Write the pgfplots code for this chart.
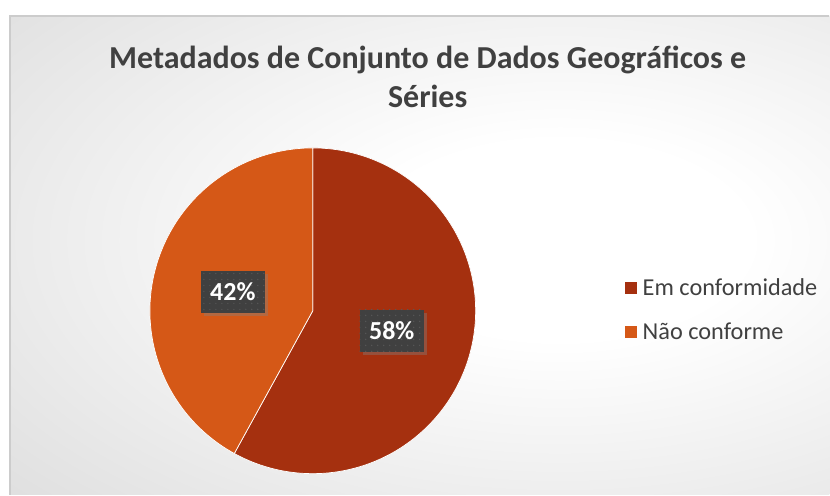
\documentclass[border=0pt]{standalone}
\usepackage{pgfplots}
\pgfplotsset{compat=1.18}
\usepackage{fontspec}
\setmainfont{Carlito}
\usetikzlibrary{shadows,patterns.meta}
\definecolor{cA}{RGB}{165,48,15}
\definecolor{cB}{RGB}{213,88,23}
\definecolor{txt}{RGB}{64,64,64}
\definecolor{bgout}{RGB}{198,198,198}
\definecolor{lbl}{RGB}{64,64,64}
\definecolor{dotc}{RGB}{88,88,88}
\pgfdeclareradialshading{bgshade}{\pgfpoint{0bp}{0bp}}{color(0bp)=(white); color(4bp)=(white); color(25bp)=(bgout); color(50bp)=(bgout)}
% data (percent)
\def\valA{58}
\def\valB{42}
\pgfmathsetmacro{\angA}{90}
\pgfmathsetmacro{\angB}{90-3.6*\valA}
\pgfmathsetmacro{\angC}{90-3.6*(\valA+\valB)}
\begin{document}
\begin{tikzpicture}
\begin{axis}[
  scale only axis, width=830pt, height=495pt,
  xmin=0, xmax=830, ymin=0, ymax=495, y dir=reverse,
  hide axis, clip=false, at={(0,0)}, anchor=south west,
  legend cell align=left,
  legend style={at={(axis cs:622,275)}, anchor=north west, draw=none, fill=none,
    font=\fontsize{24.3}{28}\selectfont, text=txt, row sep=22pt,
    nodes={inner sep=2pt}},
  legend image code/.code={\fill[#1,draw=none] (0pt,-6pt) rectangle (12pt,6pt);},
]
% background
\fill[white] (axis cs:0,0) rectangle (axis cs:830,495);
\fill[bgout] (axis cs:10,16) rectangle (axis cs:830,495);
\begin{scope}
\clip (axis cs:10,16) rectangle (axis cs:830,495);
\shade[shading=bgshade] (axis cs:560,240) ellipse [x radius=1180pt, y radius=620pt];
\end{scope}
\draw[black!20, line width=1.2pt] (axis cs:10,495) -- (axis cs:10,16) -- (axis cs:830,16);
% title
\node[text=txt, font=\bfseries\fontsize{32}{39}\selectfont, align=center] at (axis cs:428,77)
  {Metadados de Conjunto de Dados Geográficos e\\Séries};
% pie slices
\addplot[fill=cA, draw=white, line width=0.7pt, variable=\t, domain=\angB:\angA, samples=150]
  ({313+163*cos(\t)},{311-163*sin(\t)}) -- (axis cs:313,311) -- cycle;
\addlegendentry{\hspace{4pt}Em conformidade}
\addplot[fill=cB, draw=white, line width=0.7pt, variable=\t, domain=\angC:\angB, samples=120]
  ({313+163*cos(\t)},{311-163*sin(\t)}) -- (axis cs:313,311) -- cycle;
\addlegendentry{\hspace{4pt}Não conforme}
% data labels
\node[fill=lbl, text=white, font=\bfseries\fontsize{26}{26}\selectfont,
  minimum width=64pt, minimum height=42pt, inner sep=0pt,
  drop shadow={opacity=0.4, shadow xshift=3pt, shadow yshift=-3pt},
  postaction={pattern={Dots[radius=0.7pt, distance=6pt]}, pattern color=dotc}] at (axis cs:233,292) {};
\node[text=white, font=\bfseries\fontsize{26}{26}\selectfont] at (axis cs:233,292) {42\%};
\node[fill=lbl, text=white, font=\bfseries\fontsize{26}{26}\selectfont,
  minimum width=64pt, minimum height=42pt, inner sep=0pt,
  drop shadow={opacity=0.4, shadow xshift=3pt, shadow yshift=-3pt},
  postaction={pattern={Dots[radius=0.7pt, distance=6pt]}, pattern color=dotc}] at (axis cs:392,331) {};
\node[text=white, font=\bfseries\fontsize{26}{26}\selectfont] at (axis cs:392,331) {58\%};
\end{axis}
\end{tikzpicture}
\end{document}
